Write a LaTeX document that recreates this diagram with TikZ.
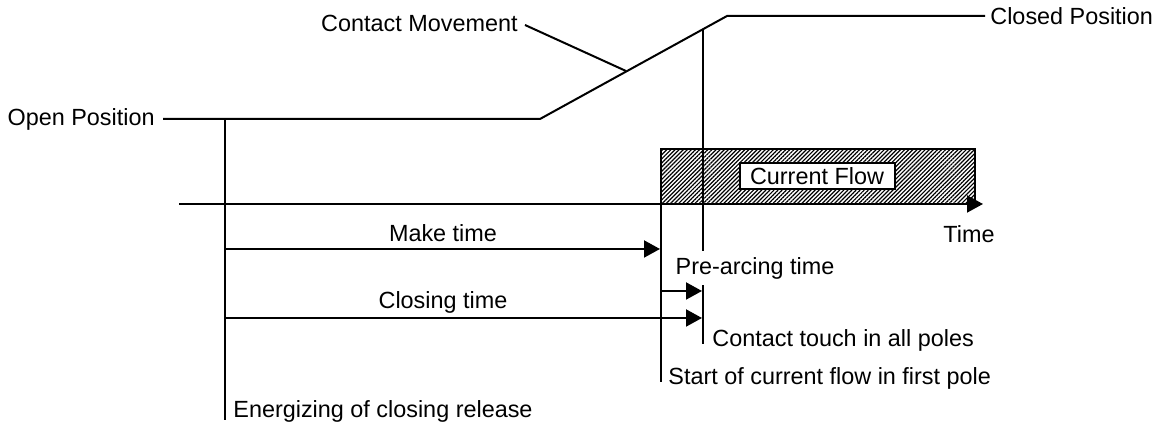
\documentclass[tikz,border=0pt]{standalone}
\usepackage{fontspec}
\setmainfont{Liberation Sans}
\usetikzlibrary{arrows.meta,patterns.meta}
\begin{document}
\begin{tikzpicture}[x=0.5pt,y=-0.5pt,
  ln/.style={line width=1pt},
  arr/.style={line width=1pt,-{Triangle[length=8pt,width=8.5pt]}},
  lbl/.style={inner sep=0pt,font=\fontsize{11.7}{14}\selectfont},
  tick/.style={line width=1pt}]
\useasboundingbox (0,0) rectangle (1164,431);
% current flow region
\fill[pattern={Lines[angle=45,distance=1.45pt,line width=0.6pt]}] (661,149) rectangle (975,204);
\draw[ln] (661,204) -- (661,149) -- (975,149) -- (975,204);
\node[lbl,draw,line width=1pt,fill=white,minimum width=77.5pt,minimum height=13pt] (cf) at (817,176) {Current Flow};
% contact movement curve
\node[lbl,anchor=east] (open) at (155,119) {Open Position};
\node[lbl,anchor=west] (closed) at (990,16) {Closed Position};
\coordinate (r1) at (540,119);
\coordinate (r2) at (727,16);
\draw[ln] ([xshift=4pt]open.east) -- (r1) -- (r2) -- ([xshift=-2.5pt]closed.west);
\node[lbl,anchor=east] (cm) at (518,23) {Contact Movement};
\coordinate (cmp) at (626,71);
\draw[ln] ([xshift=3.5pt,yshift=-1pt]cm.east) -- (cmp);
% time axis
\coordinate (ax0) at (179,204);
\coordinate (ax1) at (983,204);
\draw[arr] (ax0) -- (ax1);
\node[lbl] (time) at (969,234) {Time};
% verticals
\coordinate (e0) at (225,119);
\coordinate (e1) at (225,420);
\draw[tick] (e0) -- (e1);
\node[lbl,anchor=west] (en) at (233,411) {Energizing of closing release};
\coordinate (s0) at (661,149);
\coordinate (s1) at (661,382);
\draw[tick] (s0) -- (s1);
\node[lbl,anchor=west] (st) at (668,378) {Start of current flow in first pole};
\coordinate (c0) at (703,29);
\coordinate (c1) at (703,344);
\draw[tick] (c0) -- (c1);
\node[lbl,anchor=west] (ct) at (712,340) {Contact touch in all poles};
\node[lbl,fill=white,inner xsep=1pt,inner ysep=3pt] (pa) at (755,268) {Pre-arcing time};
% time arrows
\draw[arr] (225,249) -- (660,249);
\node[lbl] (mt) at (443,233) {Make time};
\draw[arr] (661,291) -- (702,291);
\draw[arr] (225,318) -- (702,318);
\node[lbl] (clt) at (443,302) {Closing time};
\end{tikzpicture}
\end{document}
